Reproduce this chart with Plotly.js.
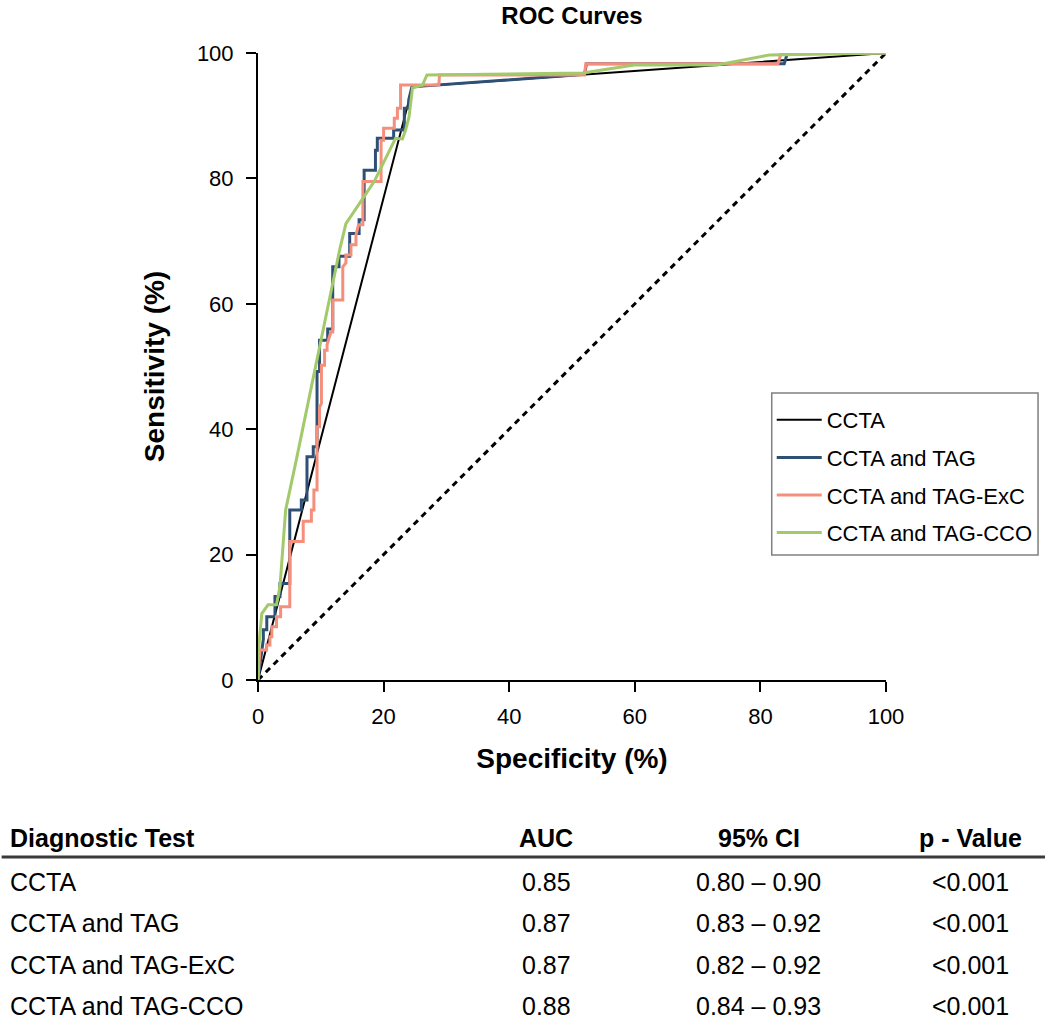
<!DOCTYPE html>
<html>
<head>
<meta charset="utf-8">
<script src="https://cdn.plot.ly/plotly-3.0.1.min.js"></script>
<style>html,body{margin:0;padding:0;background:#fff;}#chart{width:1050px;height:1021px;}</style>
</head>
<body>
<div id="chart"></div>
<script>
// ---- data ----
var seriesNames = ["CCTA", "CCTA and TAG", "CCTA and TAG-ExC", "CCTA and TAG-CCO"];

var ccta_x = [0, 24.6, 100];
var ccta_y = [0, 94.6, 100];

var tag_x = [0, 0.5, 0.85, 0.85, 1.4, 1.4, 2.7, 2.7, 3.5, 3.5, 5.06, 5.06, 6.9, 6.9, 7.8, 7.8, 8.8, 8.8, 9.4, 9.4, 9.8, 9.8, 11.1, 11.1, 11.9, 11.9, 12.9, 12.9, 14.6, 14.6, 16.1, 16.1, 16.9, 16.9, 18.7, 18.7, 19.0, 19.0, 21.6, 21.6, 23.3, 23.3, 24.0, 24.0, 24.5, 52.0, 52.3, 83.8, 84.3, 100];
var tag_y = [0, 4, 6.5, 8.0, 8.0, 10.1, 10.1, 13.3, 13.3, 15.4, 15.4, 27.1, 27.1, 28.7, 28.7, 35.6, 35.6, 37.2, 37.2, 49.2, 49.2, 54.2, 54.2, 56.0, 56.0, 65.9, 65.9, 67.6, 67.6, 71.2, 71.2, 73.4, 73.4, 81.3, 81.3, 84.5, 84.5, 86.4, 86.4, 87.7, 87.7, 91.2, 91.2, 92.5, 94.6, 96.6, 98.3, 98.3, 100, 100];

var exc_x = [0, 0.3, 1.37, 1.37, 1.9, 1.9, 2.2, 2.2, 2.95, 2.95, 3.6, 3.6, 5.06, 5.06, 7.2, 7.2, 8.5, 8.5, 8.9, 8.9, 9.4, 9.4, 9.8, 9.8, 10.1, 10.1, 10.6, 10.6, 11.0, 11.0, 11.6, 11.9, 11.9, 13.5, 13.5, 14.0, 14.0, 14.8, 14.8, 15.6, 15.6, 16.0, 16.7, 16.7, 19.6, 19.6, 20.0, 20.0, 21.7, 21.7, 22.2, 22.2, 22.7, 22.7, 28.8, 28.9, 52.0, 52.2, 82.8, 83.3, 100];
var exc_y = [0, 4.8, 4.8, 5.6, 5.6, 6.9, 6.9, 8.5, 8.5, 10.1, 10.1, 11.7, 11.7, 22.1, 22.1, 25.3, 25.3, 27.1, 27.1, 30.3, 30.3, 40.4, 40.4, 43.5, 44.1, 50.2, 50.2, 52.6, 52.6, 53.5, 55.5, 55.5, 60.6, 60.6, 65.9, 66.5, 67.8, 67.8, 69.4, 69.4, 71.0, 72.6, 72.6, 79.5, 79.5, 86.1, 86.1, 88.0, 88.0, 89.6, 89.6, 91.2, 91.2, 94.9, 94.9, 96.5, 96.5, 98.3, 98.3, 100, 100];

var cco_x = [0, 0.1, 0.6, 1.6, 2.95, 3.5, 4.4, 6.1, 13.0, 14.0, 18.5, 21.9, 23.0, 23.5, 24.05, 24.6, 26.2, 26.9, 51.7, 59.9, 73.1, 81.5, 100];
var cco_y = [0, 5.0, 10.6, 12.0, 12.0, 14.9, 27.1, 35.1, 68.6, 72.8, 79.5, 86.4, 86.3, 87.7, 89.8, 94.4, 94.9, 96.5, 96.8, 98.1, 98.1, 99.7, 100];

var chance_x = [0, 100];
var chance_y = [0, 100];

var xTicks = [0, 20, 40, 60, 80, 100];
var yTicks = [0, 20, 40, 60, 80, 100];

// ---- table ----
var tableHeader = ["Diagnostic Test", "AUC", "95% CI", "p - Value"];
var tableTests = ["CCTA", "CCTA and TAG", "CCTA and TAG-ExC", "CCTA and TAG-CCO"];
var tableAUC = ["0.85", "0.87", "0.87", "0.88"];
var tableCI = ["0.80 \u2013 0.90", "0.83 \u2013 0.92", "0.82 \u2013 0.92", "0.84 \u2013 0.93"];
var tableP = ["<0.001", "<0.001", "<0.001", "<0.001"];

// ---- styling ----
var colors = ["#000000", "#2f5075", "#f58f7c", "#a2c96a"];
var FONT = "Liberation Sans, Arial, Helvetica, sans-serif";

// plot area in pixels
var L = 258, R = 890, T = 53, B = 680, W = 1050, H = 1021;
function px2x(px) { return (px - L) / (R - L); }
function py2y(py) { return (B - py) / (B - T); }

var traces = [
  {x: chance_x, y: chance_y, mode: "lines", showlegend: false, hoverinfo: "skip",
   line: {color: "#000", width: 3, dash: "6px,5px"}},
  {x: ccta_x, y: ccta_y, name: seriesNames[0], legendgroup: "g0", mode: "lines", line: {color: colors[0], width: 2}},
  {x: tag_x, y: tag_y, name: seriesNames[1], legendgroup: "g1", mode: "lines", line: {color: colors[1], width: 3}},
  {x: exc_x, y: exc_y, name: seriesNames[2], legendgroup: "g2", mode: "lines", line: {color: colors[2], width: 3}},
  {x: cco_x, y: cco_y, name: seriesNames[3], legendgroup: "g3", mode: "lines", line: {color: colors[3], width: 3}}
];

var annotations = [];
var colX = [6, 548, 762, 975];
var headerY = 838;
var rowY = [882, 923, 965, 1006];
tableHeader.forEach(function (h, i) {
  annotations.push({xref: "paper", yref: "paper", x: px2x(colX[i]), y: py2y(headerY),
    xanchor: i === 0 ? "left" : "center", yanchor: "middle", showarrow: false,
    text: "<b>" + h + "</b>", font: {family: FONT, size: 25, color: "#000"}});
});
var cols = [tableTests, tableAUC, tableCI, tableP];
rowY.forEach(function (yy, r) {
  cols.forEach(function (c, i) {
    annotations.push({xref: "paper", yref: "paper", x: px2x(colX[i]), y: py2y(yy),
      xanchor: i === 0 ? "left" : "center", yanchor: "middle", showarrow: false,
      text: c[r].replace("<", "&lt;"), font: {family: FONT, size: 25, color: "#000"}});
  });
});

var shapes = [
  {type: "line", xref: "paper", yref: "paper", x0: px2x(0), x1: px2x(W), y0: py2y(857), y1: py2y(857),
   line: {color: "#3a3a3a", width: 3}},
  // legend frame
  {type: "rect", xref: "paper", yref: "paper", x0: px2x(775), x1: px2x(1043), y0: py2y(393), y1: py2y(555),
   line: {color: "#808080", width: 1.5}, fillcolor: "#fff", layer: "above"}
];

var layout = {
  width: W, height: H,
  margin: {l: L, r: W - R, t: T, b: H - B, pad: 0},
  paper_bgcolor: "#fff", plot_bgcolor: "#fff",
  font: {family: FONT, color: "#000"},
  title: {text: "<b>ROC Curves</b>", x: 0.5, xref: "paper", xanchor: "center", y: 1 - 16 / H, yanchor: "middle",
          font: {family: FONT, size: 24, color: "#000"}},
  xaxis: {range: [0, 100], tickvals: xTicks, ticktext: xTicks.map(String), showgrid: false, zeroline: false,
          showline: true, linecolor: "#000", linewidth: 2, ticks: "outside", ticklen: 10, tickwidth: 2, tickcolor: "#000",
          ticklabelstandoff: 6, tickfont: {family: FONT, size: 22, color: "#000"},
          title: {text: "<b>Specificity (%)</b>", standoff: 20, font: {family: FONT, size: 28, color: "#000"}},
          fixedrange: true},
  yaxis: {range: [0, 100], tickvals: yTicks, ticktext: yTicks.map(String), showgrid: false, zeroline: false,
          showline: true, linecolor: "#000", linewidth: 2, ticks: "outside", ticklen: 10, tickwidth: 2, tickcolor: "#000",
          ticklabelstandoff: 8, tickfont: {family: FONT, size: 22, color: "#000"},
          title: {text: "<b>Sensitivity (%)</b>", standoff: 24, font: {family: FONT, size: 28, color: "#000"}},
          fixedrange: true},
  legend: {x: px2x(775), y: py2y(399), xanchor: "left", yanchor: "top", xref: "paper", yref: "paper",
           bgcolor: "rgba(0,0,0,0)", borderwidth: 0,
           font: {family: FONT, size: 22, color: "#000"}, traceorder: "grouped", tracegroupgap: 6, itemwidth: 45},
  annotations: annotations,
  shapes: shapes,
  showlegend: true
};

Plotly.newPlot("chart", traces, layout, {displayModeBar: false, staticPlot: true});
</script>
</body>
</html>
